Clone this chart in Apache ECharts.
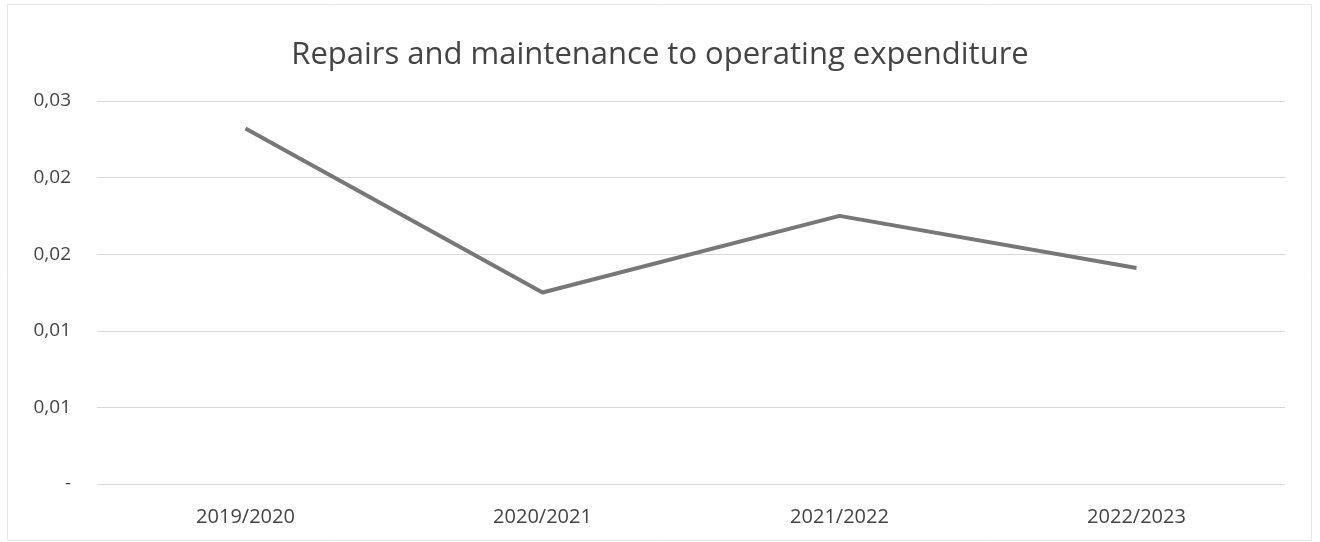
<!DOCTYPE html>
<html>
<head>
<meta charset="utf-8">
<script src="https://cdn.jsdelivr.net/npm/echarts@6/dist/echarts.min.js"></script>
<style>
  html, body { margin: 0; padding: 0; background: #fff; }
  #chart { width: 1320px; height: 542px; }
</style>
</head>
<body>
<div id="chart"></div>
<script>
"use strict";

const years = ["2019/2020", "2020/2021", "2021/2022", "2022/2023"];
const ratios = [0.0232, 0.0125, 0.0175, 0.0141];
const yTickLabels = ["-", "0,01", "0,01", "0,02", "0,02", "0,03"];

const chart = echarts.init(document.getElementById("chart"), null, {
  width: 1320,
  height: 542,
});

chart.setOption({
  backgroundColor: "#ffffff",
  // faint frame round the chart area
  graphic: [
    {
      type: "rect",
      shape: { x: 7.5, y: 4.5, width: 1304, height: 536 },
      style: { fill: "none", stroke: "#e6e6e6", lineWidth: 1 },
      silent: true,
    },
  ],
  title: {
    text: "Repairs and maintenance to operating expenditure",
    left: "center",
    top: 35,
    textStyle: {
      fontFamily: "Open Sans",
      fontSize: 31,
      fontWeight: "normal",
      color: "#444444",
    },
  },
  grid: { left: 97, right: 35, top: 101, bottom: 58 },
  xAxis: {
    type: "category",
    data: years,
    boundaryGap: true,
    axisLine: { show: false },
    axisTick: { show: false },
    axisLabel: {
      margin: 23,
      fontFamily: "Open Sans",
      fontSize: 20,
      color: "#444444",
    },
  },
  yAxis: {
    type: "value",
    min: 0,
    max: 0.025,
    interval: 0.005,
    axisLine: { show: false },
    axisTick: { show: false },
    axisLabel: {
      margin: 26,
      fontFamily: "Open Sans",
      fontSize: 19,
      color: "#444444",
      formatter: (v) => yTickLabels[Math.round(v / 0.005)],
    },
    splitLine: { lineStyle: { color: "#d9d9d9", width: 1 } },
  },
  series: [
    {
      type: "line",
      data: ratios,
      symbol: "none",
      lineStyle: { color: "#777777", width: 4 },
    },
  ],
});
</script>
</body>
</html>
